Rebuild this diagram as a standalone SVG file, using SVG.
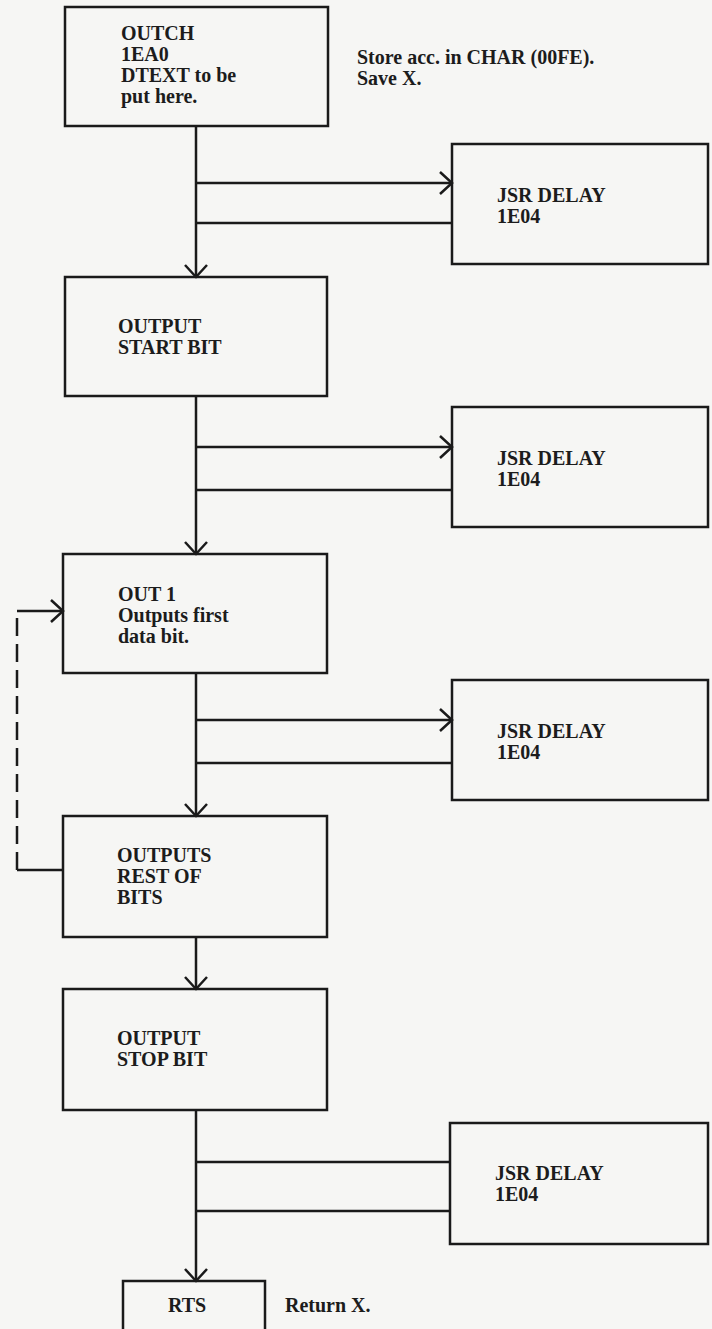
<svg xmlns="http://www.w3.org/2000/svg" width="712" height="1329" viewBox="0 0 712 1329">
<defs>
<style>
.bx{fill:none;stroke:#1a1a1a;stroke-width:2.5}
.ln{fill:none;stroke:#1a1a1a;stroke-width:2.5}
.ds{fill:none;stroke:#1a1a1a;stroke-width:2.5;stroke-dasharray:18 8}
text{font-family:"Liberation Serif","Times New Roman",serif;font-weight:bold;font-size:20px;fill:#1c1c1c}
</style>
<marker id="ah" markerUnits="userSpaceOnUse" viewBox="0 0 16 26" refX="14" refY="13" markerWidth="16" markerHeight="26" orient="auto">
<path d="M2,2 L14,13 L2,24" fill="none" stroke="#1a1a1a" stroke-width="2.5"/>
</marker>
</defs>
<rect width="712" height="1329" fill="#f6f6f4"/>
<g id="connectors">
<path class="ln" d="M196,126 V277" marker-end="url(#ah)"/>
<path class="ln" d="M196,183 H452" marker-end="url(#ah)"/>
<path class="ln" d="M196,223 H452"/>
<path class="ln" d="M196,396 V554" marker-end="url(#ah)"/>
<path class="ln" d="M196,447 H452" marker-end="url(#ah)"/>
<path class="ln" d="M196,490 H452"/>
<path class="ln" d="M196,673 V816" marker-end="url(#ah)"/>
<path class="ln" d="M196,720 H452" marker-end="url(#ah)"/>
<path class="ln" d="M196,763 H452"/>
<path class="ln" d="M63,870 H17"/>
<path class="ds" d="M17,870 V611"/>
<path class="ln" d="M17,611 H63" marker-end="url(#ah)"/>
<path class="ln" d="M196,937 V989" marker-end="url(#ah)"/>
<path class="ln" d="M196,1110 V1281" marker-end="url(#ah)"/>
<path class="ln" d="M196,1162 H450"/>
<path class="ln" d="M196,1211 H450"/>
</g>
<g id="outch">
<rect class="bx" x="65" y="7" width="263" height="119"/>
<text x="121" y="40">OUTCH</text>
<text x="121" y="61">1EA0</text>
<text x="121" y="82">DTEXT to be</text>
<text x="121" y="103">put here.</text>
</g>
<g id="note-store">
<text x="357" y="64">Store acc. in CHAR (00FE).</text>
<text x="357" y="85">Save X.</text>
</g>
<g id="delay1">
<rect class="bx" x="452" y="144" width="256" height="120"/>
<text x="497" y="202">JSR DELAY</text>
<text x="497" y="223">1E04</text>
</g>
<g id="startbit">
<rect class="bx" x="65" y="277" width="262" height="119"/>
<text x="118" y="333">OUTPUT</text>
<text x="118" y="354">START BIT</text>
</g>
<g id="delay2">
<rect class="bx" x="452" y="407" width="256" height="120"/>
<text x="497" y="465">JSR DELAY</text>
<text x="497" y="486">1E04</text>
</g>
<g id="out1">
<rect class="bx" x="63" y="554" width="264" height="119"/>
<text x="118" y="601">OUT 1</text>
<text x="118" y="622">Outputs first</text>
<text x="118" y="643">data bit.</text>
</g>
<g id="delay3">
<rect class="bx" x="452" y="680" width="256" height="120"/>
<text x="497" y="738">JSR DELAY</text>
<text x="497" y="759">1E04</text>
</g>
<g id="restbits">
<rect class="bx" x="63" y="816" width="264" height="121"/>
<text x="117" y="862">OUTPUTS</text>
<text x="117" y="883">REST OF</text>
<text x="117" y="904">BITS</text>
</g>
<g id="stopbit">
<rect class="bx" x="63" y="989" width="264" height="121"/>
<text x="117" y="1045">OUTPUT</text>
<text x="117" y="1066">STOP BIT</text>
</g>
<g id="delay4">
<rect class="bx" x="450" y="1123" width="258" height="121"/>
<text x="495" y="1180">JSR DELAY</text>
<text x="495" y="1201">1E04</text>
</g>
<g id="rts">
<rect class="bx" x="123" y="1281" width="142" height="60"/>
<text x="168" y="1312">RTS</text>
</g>
<g id="note-return">
<text x="285" y="1312">Return X.</text>
</g>
</svg>
